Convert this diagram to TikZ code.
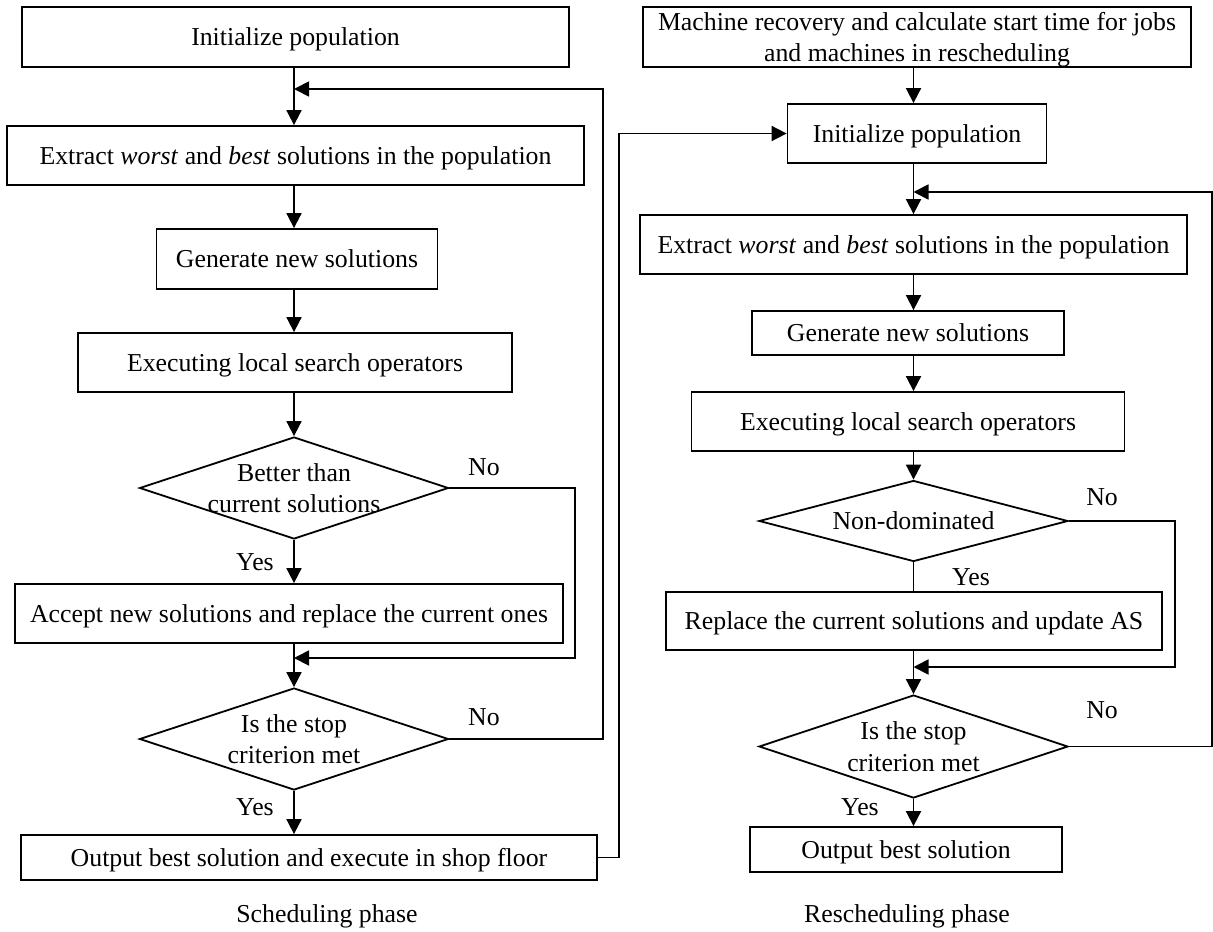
\documentclass[tikz,border=0pt]{standalone}
\usepackage{fontspec}
\setmainfont{Liberation Serif}
\usepackage{tikz}
\usetikzlibrary{shapes.geometric, arrows.meta, positioning, calc}

\tikzset{
  base/.style={font=\fontsize{12.9}{15.8}\selectfont},
  stepbox/.style={base, draw, line width=0.9pt, inner sep=2pt, align=center, text depth=0pt},
  decision/.style={base, draw, line width=0.9pt, diamond, inner sep=0pt,
    minimum width=154.5pt, minimum height=51pt},
  arr/.style={line width=0.9pt, -{Triangle[length=7.5pt,width=7.5pt]}},
  link/.style={line width=0.9pt},
  answer/.style={base, inner sep=0pt}
}

\begin{document}
\begin{tikzpicture}[x=0.5pt, y=-0.5pt]
  \useasboundingbox (0,0) rectangle (1213,931);

  % scheduling phase
  \coordinate (axL) at (294,0);
  \node[stepbox, minimum width=273.5pt, minimum height=30pt] (initL) at (295.5,37) {Initialize population};
  \node[stepbox, minimum width=288.5pt, minimum height=29.5pt] (extrL) at (295.5,155.5) {Extract \textit{worst} and \textit{best} solutions in the population};
  \node[stepbox, minimum width=140.5pt, minimum height=30pt] (genL) at (297,259) {Generate new solutions};
  \node[stepbox, minimum width=217pt, minimum height=29.5pt] (lsL) at (295,362.5) {Executing local search operators};
  \node[decision, label={[base, align=center]center:Better than\\current solutions}] (betL) at (294,488) {};
  \node[stepbox, minimum width=274pt, minimum height=29.5pt] (accL) at (289,613.5) {Accept new solutions and replace the current ones};
  \node[decision, label={[base, align=center]center:Is the stop\\criterion met}] (stopL) at (294,739) {};
  \node[stepbox, minimum width=288pt, minimum height=22.5pt] (outL) at (309,857.5) {Output best solution and execute in shop floor};

  \draw[arr] (initL.south -| axL) -- (extrL.north -| axL);
  \draw[arr] (extrL.south -| axL) -- (genL.north -| axL);
  \draw[arr] (genL.south -| axL) -- (lsL.north -| axL);
  \draw[arr] (lsL.south -| axL) -- (betL.north);
  \draw[arr] (betL.south) -- (accL.north -| axL);
  \draw[arr] (accL.south -| axL) -- (stopL.north);
  \draw[arr] (stopL.south) -- (outL.north -| axL);

  \coordinate (jbetL) at (575,658);
  \coordinate (jstopL) at (603,89);
  \coordinate (jcross) at (619,0);
  \draw[arr] (betL.east) -| (jbetL) -- (jbetL -| axL);
  \draw[arr] (stopL.east) -| (jstopL) -- (jstopL -| axL);

  \node[answer] (noL1) at (484,467) {No};
  \node[answer] (yesL1) at (255,562) {Yes};
  \node[answer] (noL2) at (484,717) {No};
  \node[answer] (yesL2) at (255,807) {Yes};

  % rescheduling phase
  \coordinate (axR) at (913.5,0);
  \node[stepbox, minimum width=274pt, minimum height=30pt] (recR) at (917,37) {Machine recovery and calculate start time for jobs\\and machines in rescheduling};
  \node[stepbox, minimum width=129.5pt, minimum height=29.5pt] (initR) at (917,133.5) {Initialize population};
  \node[stepbox, minimum width=273.5pt, minimum height=29.5pt] (extrR) at (913.5,244.5) {Extract \textit{worst} and \textit{best} solutions in the population};
  \node[stepbox, minimum width=156pt, minimum height=22pt] (genR) at (908,333) {Generate new solutions};
  \node[stepbox, minimum width=216.5pt, minimum height=29.5pt] (lsR) at (908,421.5) {Executing local search operators};
  \node[decision, minimum height=40.5pt, label={[base]center:Non-dominated}] (ndomR) at (913.5,521) {};
  \node[stepbox, minimum width=248pt, minimum height=29pt] (replR) at (914,621) {Replace the current solutions and update AS};
  \node[decision, minimum height=51.5pt, label={[base, align=center]center:Is the stop\\criterion met}] (stopR) at (913.5,746.5) {};
  \node[stepbox, minimum width=156pt, minimum height=22.5pt] (outR) at (906,849.5) {Output best solution};

  \draw[arr] (recR.south -| axR) -- (initR.north -| axR);
  \draw[arr] (initR.south -| axR) -- (extrR.north -| axR);
  \draw[arr] (extrR.south -| axR) -- (genR.north -| axR);
  \draw[arr] (genR.south -| axR) -- (lsR.north -| axR);
  \draw[arr] (lsR.south -| axR) -- (ndomR.north);
  \draw[link] (ndomR.south) -- (replR.north -| axR);
  \draw[arr] (replR.south -| axR) -- (stopR.north);
  \draw[arr] (stopR.south) -- (outR.north -| axR);

  \coordinate (jndomR) at (1175,667);
  \coordinate (jstopR) at (1212,192);
  \draw[arr] (ndomR.east) -| (jndomR) -- (jndomR -| axR);
  \draw[arr] (stopR.east) -| (jstopR) -- (jstopR -| axR);

  \node[answer] (noR1) at (1102,497) {No};
  \node[answer] (yesR1) at (971,577) {Yes};
  \node[answer] (noR2) at (1102,710) {No};
  \node[answer] (yesR2) at (860,807) {Yes};

  % from scheduling to rescheduling
  \draw[arr] (outL.east) -| (jcross |- initR.west) -- (initR.west);

  \node[base] (capL) at (327,916) {Scheduling phase};
  \node[base] (capR) at (907,916) {Rescheduling phase};
\end{tikzpicture}
\end{document}
